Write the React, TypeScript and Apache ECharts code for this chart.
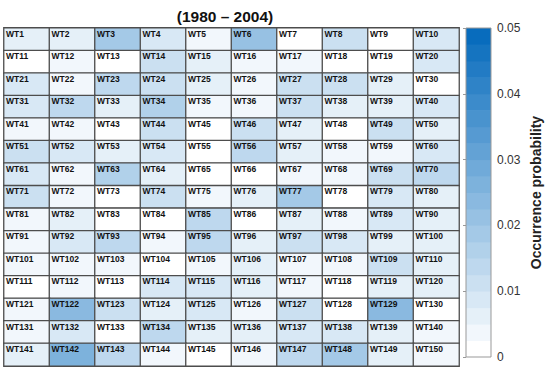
import React, { useEffect, useRef } from "react";
import * as echarts from "echarts";

// Weather-type grid: 15 rows x 10 columns
const columns = [0, 1, 2, 3, 4, 5, 6, 7, 8, 9];
const rows = [0, 1, 2, 3, 4, 5, 6, 7, 8, 9, 10, 11, 12, 13, 14];
const typeLabels = rows.flatMap((r) => columns.map((c) => `WT${r * 10 + c + 1}`));

// Occurrence probability of each weather type, row by row (WT1..WT150)
const occurrence = [
  0.006, 0.007, 0.018, 0.009, 0.004, 0.020, 0.001, 0.012, 0.001, 0.008,
  0.001, 0.003, 0.001, 0.012, 0.006, 0.004, 0.004, 0.001, 0.001, 0.009,
  0.008, 0.004, 0.014, 0.010, 0.006, 0.004, 0.012, 0.011, 0.006, 0.001,
  0.008, 0.014, 0.007, 0.016, 0.004, 0.004, 0.012, 0.006, 0.006, 0.008,
  0.004, 0.004, 0.001, 0.011, 0.002, 0.011, 0.006, 0.001, 0.010, 0.006,
  0.010, 0.008, 0.007, 0.008, 0.001, 0.013, 0.006, 0.004, 0.003, 0.008,
  0.008, 0.004, 0.017, 0.007, 0.001, 0.001, 0.004, 0.004, 0.010, 0.013,
  0.010, 0.003, 0.001, 0.011, 0.004, 0.006, 0.018, 0.001, 0.008, 0.006,
  0.004, 0.006, 0.001, 0.002, 0.013, 0.001, 0.006, 0.004, 0.008, 0.007,
  0.004, 0.008, 0.013, 0.004, 0.013, 0.006, 0.012, 0.008, 0.006, 0.007,
  0.004, 0.004, 0.003, 0.001, 0.003, 0.006, 0.004, 0.003, 0.011, 0.006,
  0.001, 0.004, 0.001, 0.009, 0.008, 0.006, 0.004, 0.001, 0.007, 0.006,
  0.004, 0.023, 0.011, 0.006, 0.008, 0.004, 0.011, 0.001, 0.023, 0.001,
  0.004, 0.008, 0.001, 0.014, 0.007, 0.007, 0.008, 0.008, 0.007, 0.003,
  0.006, 0.025, 0.013, 0.004, 0.001, 0.003, 0.015, 0.019, 0.006, 0.004,
];

// Colour bar
const colorMin = 0;
const colorMax = 0.05;
const colorStep = 0.0025;
const colorTicks = [0, 0.01, 0.02, 0.03, 0.04, 0.05];
const colorLevels = Array.from({ length: 20 }, (_, i) => +(i * colorStep).toFixed(4));
const title = "(1980 – 2004)";
const colorbarName = "Occurrence probability";

const low = [255, 255, 255];
const high = [8, 108, 189];
function levelColor(i: number) {
  const t = i / (colorLevels.length - 1);
  const c = low.map((l, k) => Math.round(l + (high[k] - l) * t));
  return `rgb(${c[0]},${c[1]},${c[2]})`;
}

export default function App() {
  const ref = useRef<HTMLDivElement>(null);
  useEffect(() => {
    if (!ref.current) return;
    const chart = echarts.init(ref.current, undefined, { renderer: "svg" });
    const heatData = occurrence.map((v, idx) => [idx % 10, Math.floor(idx / 10), v]);
    const pieces = colorLevels.map((lo, i) => ({
      gte: lo,
      lt: i === colorLevels.length - 1 ? 1 : lo + colorStep,
      color: levelColor(i),
    }));
    chart.setOption({
      animation: false,
      backgroundColor: "#fff",
      title: {
        text: title,
        left: 220,
        top: 3,
        textAlign: "center",
        textStyle: { fontFamily: "Liberation Sans, Arial", fontSize: 15.5, fontWeight: "bold", color: "#111" },
      },
      grid: [
        { left: 4, top: 28, width: 455, height: 338 },
        { left: 466, top: 28, width: 25, height: 329 },
      ],
      xAxis: [
        { type: "category", gridIndex: 0, data: columns, show: false },
        { type: "value", gridIndex: 1, min: 0, max: 1, show: false },
      ],
      yAxis: [
        { type: "category", gridIndex: 0, data: rows, inverse: true, show: false },
        {
          type: "value",
          gridIndex: 1,
          min: colorMin,
          max: colorMax,
          interval: 0.01,
          position: "right",
          axisLine: { show: false },
          splitLine: { show: false },
          axisTick: { show: true, inside: true, length: 3, lineStyle: { color: "#999" } },
          axisLabel: {
            color: "#333",
            fontSize: 12,
            margin: 6,
            fontFamily: "Liberation Sans, Arial",
            formatter: (v: number) => (colorTicks.includes(+v.toFixed(2)) ? (v === 0 ? "0" : v.toFixed(2)) : ""),
          },
          name: colorbarName,
          nameLocation: "middle",
          nameRotate: 90,
          nameGap: 38,
          nameTextStyle: { fontFamily: "Liberation Sans, Arial", fontSize: 14, fontWeight: "bold", color: "#222" },
        },
      ],
      visualMap: {
        type: "piecewise",
        show: false,
        seriesIndex: 0,
        dimension: 2,
        pieces,
      },
      series: [
        {
          type: "heatmap",
          xAxisIndex: 0,
          yAxisIndex: 0,
          data: heatData,
          itemStyle: { borderColor: "#4d4d4d", borderWidth: 1.3 },
          label: {
            show: true,
            position: [3, 2],
            align: "left",
            verticalAlign: "top",
            fontFamily: "Liberation Sans, Arial",
            fontSize: 8.5,
            fontWeight: "bold",
            color: "#111",
            formatter: (p: any) => typeLabels[p.dataIndex],
          },
          emphasis: { disabled: true },
        },
        {
          type: "custom",
          xAxisIndex: 1,
          yAxisIndex: 1,
          data: colorLevels.map((lo) => [lo]),
          silent: true,
          renderItem: (params: any, api: any) => {
            const lo = api.value(0);
            const idx = params.dataIndex;
            const a = api.coord([0, lo + colorStep]);
            const b = api.coord([1, lo]);
            const children: any[] = [
              {
                type: "rect",
                shape: { x: a[0], y: a[1], width: b[0] - a[0], height: b[1] - a[1] + 0.5 },
                style: { fill: levelColor(idx) },
              },
            ];
            if (idx === colorLevels.length - 1) {
              const t = api.coord([0, colorMax]);
              const u = api.coord([1, colorMin]);
              children.push({
                type: "rect",
                shape: { x: t[0], y: t[1], width: u[0] - t[0], height: u[1] - t[1] },
                style: { fill: "none", stroke: "#999", lineWidth: 1 },
                z2: 10,
              });
            }
            return { type: "group", children };
          },
        },
      ],
    });
    return () => chart.dispose();
  }, []);
  return <div ref={ref} style={{ width: 550, height: 376, position: "absolute", left: 0, top: 0 }} />;
}
